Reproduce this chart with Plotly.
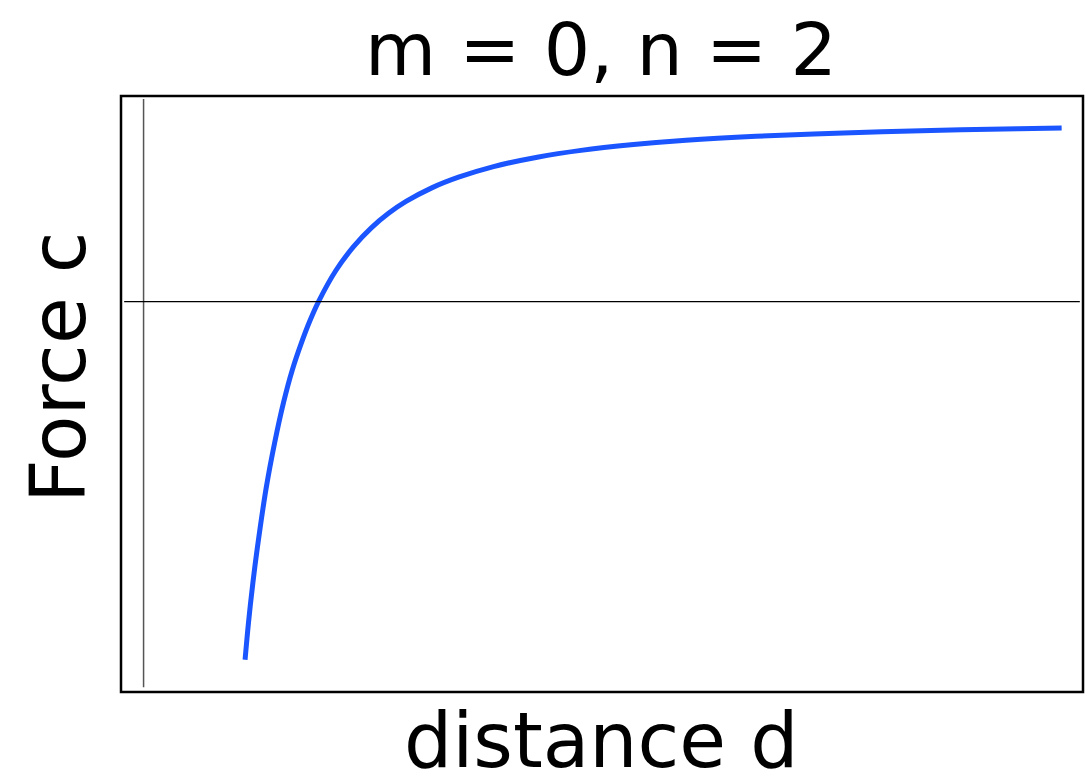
import plotly.graph_objects as go

# Force c against distance d (m = 0, n = 2)
distance = [0.580, 0.600, 0.625, 0.650, 0.700, 0.750, 0.800, 0.850, 0.900,
            0.950, 1.000, 1.100, 1.200, 1.300, 1.400, 1.500, 1.650, 1.800,
            2.000, 2.250, 2.500, 2.800, 3.100, 3.500, 4.000, 4.500, 5.000, 5.247]
force = [-1.99, -1.78, -1.56, -1.37, -1.04, -0.78, -0.56, -0.38, -0.235,
         -0.108, 0.0, 0.174, 0.305, 0.408, 0.490, 0.556, 0.633, 0.691,
         0.750, 0.802, 0.840, 0.872, 0.896, 0.918, 0.937, 0.951, 0.960, 0.964]

title_text = "m = 0, n = 2"
x_label = "distance d"
y_label = "Force c"

X_RANGE = [-0.129, 5.369]
Y_RANGE = [-2.169, 1.142]
FONT = "DejaVu Sans, Liberation Sans, sans-serif"

fig = go.Figure()

fig.add_trace(go.Scatter(
    x=distance, y=force, mode="lines",
    line=dict(color="#1a55ff", width=5, shape="spline", smoothing=1.0),
    hoverinfo="skip", showlegend=False,
))

# reference axes through the origin
fig.add_shape(type="line", xref="x", yref="y", x0=0, x1=0, y0=1.125, y1=-2.142,
              line=dict(color="#555555", width=1.5))
fig.add_shape(type="line", xref="x", yref="y", x0=-0.111, x1=5.351, y0=0, y1=0,
              line=dict(color="#000000", width=1.2))
# frame around the plotting area
fig.add_shape(type="rect", xref="paper", yref="paper", x0=0, x1=1, y0=0, y1=1,
              line=dict(color="#000000", width=2.5))

fig.add_annotation(text=title_text, xref="paper", yref="paper", x=0.4985, y=1.0772,
                   xanchor="center", yanchor="middle", showarrow=False,
                   font=dict(family=FONT, size=73, color="#000000"))
fig.add_annotation(text=x_label, xref="paper", yref="paper", x=0.4985, y=-0.0810,
                   xanchor="center", yanchor="middle", showarrow=False,
                   font=dict(family=FONT, size=76, color="#000000"))
fig.add_annotation(text=y_label, xref="paper", yref="paper", x=-0.0655, y=0.5453,
                   xanchor="center", yanchor="middle", showarrow=False, textangle=-90,
                   font=dict(family=FONT, size=76, color="#000000"))

fig.update_xaxes(range=X_RANGE, showgrid=False, zeroline=False, showticklabels=False,
                 ticks="", showline=False)
fig.update_yaxes(range=Y_RANGE, showgrid=False, zeroline=False, showticklabels=False,
                 ticks="", showline=False)

fig.update_layout(
    width=1090, height=778,
    margin=dict(l=121, r=7, t=96, b=86),
    paper_bgcolor="white", plot_bgcolor="white",
)

fig.write_html("out.html", config={"displayModeBar": False})
